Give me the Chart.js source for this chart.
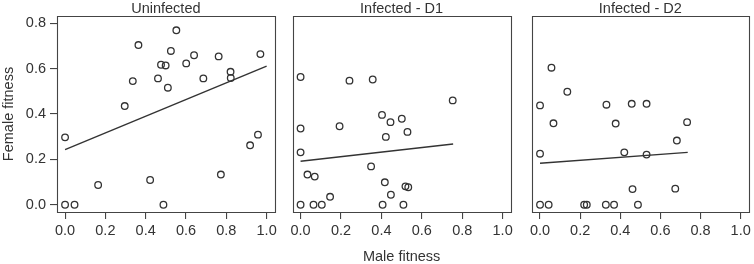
<!DOCTYPE html>
<html>
<head>
<meta charset="utf-8">
<script src="https://cdn.jsdelivr.net/npm/chart.js@4"></script>
<style>
  body { margin: 0; background: #fff; }
  #wrap { position: relative; width: 754px; height: 264px; }
  .panel { position: absolute; top: 0; height: 264px; }
</style>
</head>
<body>
<div id="wrap">
  <div class="panel" style="left:0px;width:280px"><canvas id="uninfected"></canvas></div>
  <div class="panel" style="left:280px;width:236px"><canvas id="infected_d1"></canvas></div>
  <div class="panel" style="left:516px;width:238px"><canvas id="infected_d2"></canvas></div>
</div>
<script>
const xTicks = [0, 0.2, 0.4, 0.6, 0.8, 1.0]
const yTicks = [0, 0.2, 0.4, 0.6, 0.8]

// Uninfected
const uninfectedMale = [0.00, 0.00, 0.047, 0.164, 0.296, 0.336, 0.364, 0.422, 0.461, 0.476, 0.499, 0.488, 0.510,
    0.525, 0.552, 0.601, 0.640, 0.686, 0.762, 0.773, 0.821, 0.822, 0.918, 0.957, 0.969]
const uninfectedFemale = [0.297, 0.00, 0.00, 0.087, 0.435, 0.545, 0.704, 0.109, 0.557, 0.617, 0.614, 0.00, 0.516,
    0.678, 0.769, 0.623, 0.659, 0.557, 0.654, 0.133, 0.586, 0.559, 0.262, 0.309, 0.664]
const uninfectedFitX = [0, 1.0]
const uninfectedFitY = [0.243, 0.611]

// Infected - D1
const d1Male = [0, 0, 0, 0, 0.034, 0.070, 0.064, 0.105, 0.146, 0.193, 0.242, 0.357, 0.349, 0.403, 0.445, 0.422,
    0.501, 0.529, 0.417, 0.447, 0.519, 0.533, 0.406, 0.509, 0.753]
const d1Female = [0.563, 0.336, 0.231, 0, 0.133, 0.124, 0, 0, 0.035, 0.346, 0.547, 0.552, 0.169, 0.396, 0.364, 0.299,
    0.379, 0.321, 0.099, 0.044, 0.081, 0.077, 0, 0, 0.460]
const d1FitX = [0, 0.755]
const d1FitY = [0.192, 0.268]

// Infected - D2
const d2Male = [0.057, 0.136, 0, 0.067, 0, 0, 0.043, 0.220, 0.233, 0.331, 0.377, 0.328, 0.369, 0.457, 0.531, 0.420,
    0.531, 0.461, 0.488, 0.682, 0.733, 0.674]
const d2Female = [0.604, 0.498, 0.438, 0.359, 0.225, 0, 0, 0, 0, 0.441, 0.358, 0, 0, 0.445, 0.445, 0.231,
    0.221, 0.069, 0, 0.283, 0.364, 0.071]
const d2FitX = [0, 0.736]
const d2FitY = [0.183, 0.231]

const ink = '#333333'
const fontFam = '"Liberation Sans", Arial, sans-serif'

// marco alrededor del area de datos
const panelFrame = {
    id: 'panelFrame',
    afterDraw(chart) {
        const a = chart.chartArea
        const ctx = chart.ctx
        ctx.save()
        ctx.strokeStyle = '#444444'
        ctx.lineWidth = 1.1
        ctx.beginPath()
        ctx.rect(Math.round(a.left) + 0.5, Math.round(a.top) + 0.5,
            Math.round(a.right - a.left), Math.round(a.bottom - a.top))
        ctx.stroke()
        ctx.restore()
    }
}

function toPoints(xs, ys) {
    return xs.map((x, i) => ({ x: x, y: ys[i] }))
}

function makePanel(id, title, xs, ys, fitX, fitY, opts) {
    const ctx = document.getElementById(id).getContext('2d')
    return new Chart(ctx, {
        type: 'scatter',
        data: {
            datasets: [{
                data: toPoints(xs, ys),
                pointStyle: 'circle',
                pointRadius: 3.3,
                borderWidth: 1.3,
                borderColor: ink,
                backgroundColor: 'rgba(0,0,0,0)'
            }, {
                type: 'line',
                data: toPoints(fitX, fitY),
                borderColor: ink,
                borderWidth: 1.4,
                pointRadius: 0,
                fill: false
            }]
        },
        options: {
            responsive: true,
            maintainAspectRatio: false,
            animation: false,
            layout: { padding: opts.padding },
            scales: {
                x: {
                    type: 'linear',
                    min: -0.04,
                    max: 1.04,
                    afterBuildTicks: s => { s.ticks = xTicks.map(v => ({ value: v })) },
                    afterFit: s => { s.height = 52 },
                    ticks: {
                        autoSkip: false,
                        maxRotation: 0,
                        padding: 3,
                        color: ink,
                        font: { family: fontFam, size: 14.5 },
                        callback: v => v.toFixed(1)
                    },
                    grid: { drawOnChartArea: false, tickLength: 7, color: '#444', lineWidth: 1.1 },
                    border: { display: false },
                    title: {
                        display: !!opts.xTitle,
                        text: opts.xTitle || '',
                        color: ink,
                        padding: { top: 0, bottom: 0 },
                        font: { family: fontFam, size: 14.5, lineHeight: 1.0 }
                    }
                },
                y: {
                    type: 'linear',
                    display: opts.showY,
                    min: -0.032,
                    max: 0.832,
                    afterBuildTicks: s => { s.ticks = yTicks.map(v => ({ value: v })) },
                    afterFit: s => { s.width = opts.showY ? 57 : 0 },
                    ticks: {
                        padding: 4,
                        color: ink,
                        font: { family: fontFam, size: 14.5 },
                        callback: v => v.toFixed(1)
                    },
                    grid: { drawOnChartArea: false, tickLength: 7, color: '#444', lineWidth: 1.1 },
                    border: { display: false },
                    title: {
                        display: !!opts.yTitle,
                        text: opts.yTitle || '',
                        color: ink,
                        padding: { top: 0, bottom: 0 },
                        font: { family: fontFam, size: 14.5 }
                    }
                }
            },
            plugins: {
                legend: { display: false },
                tooltip: { enabled: false },
                title: {
                    display: true,
                    fullSize: false,
                    text: title,
                    color: ink,
                    padding: { top: 1, bottom: 0 },
                    font: { family: fontFam, size: 14.5, weight: 'normal', lineHeight: '15px' }
                }
            }
        },
        plugins: [panelFrame]
    })
}

makePanel('uninfected', 'Uninfected', uninfectedMale, uninfectedFemale, uninfectedFitX, uninfectedFitY,
    { padding: { left: 0, right: 4, top: 0, bottom: 0 }, showY: true, yTitle: 'Female fitness' })
makePanel('infected_d1', 'Infected - D1', d1Male, d1Female, d1FitX, d1FitY,
    { padding: { left: 12.5, right: 4.5, top: 0, bottom: 0 }, showY: false, xTitle: 'Male fitness' })
makePanel('infected_d2', 'Infected - D2', d2Male, d2Female, d2FitX, d2FitY,
    { padding: { left: 16, right: 3, top: 0, bottom: 0 }, showY: false })
</script>
</body>
</html>
